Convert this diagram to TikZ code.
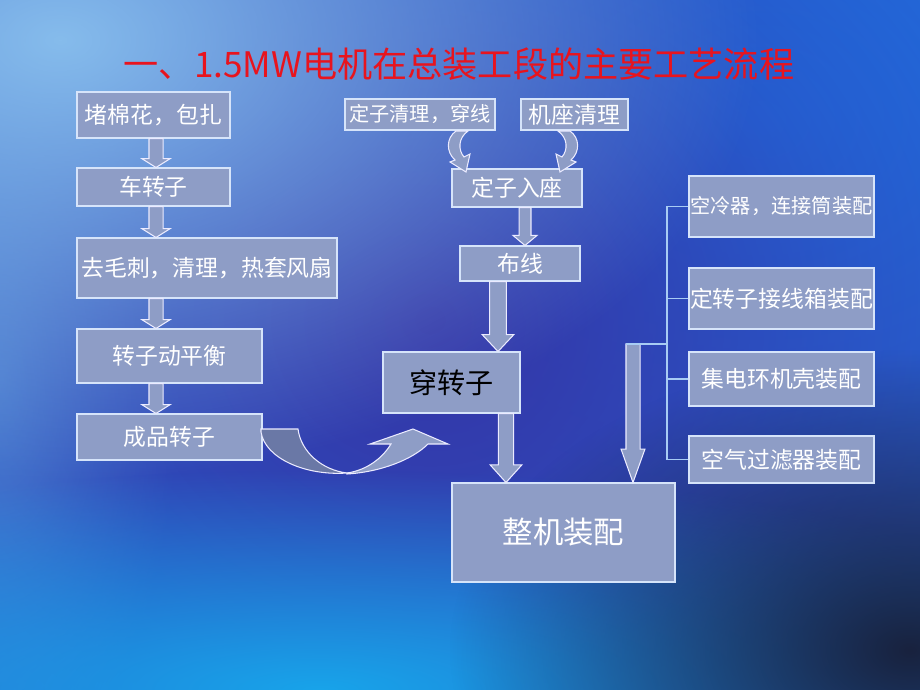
\documentclass[tikz,border=0pt]{standalone}
\usepackage{fontspec}
\setmainfont{Noto Sans CJK SC}
\newfontfamily\cjk{Noto Sans CJK SC}
\usetikzlibrary{calc, fadings}

\definecolor{boxfill}{HTML}{8E9DC6}
\definecolor{boxline}{HTML}{D6E4FA}
\definecolor{darkfold}{HTML}{6A78A6}
\definecolor{linkblue}{HTML}{A8CCF4}
\definecolor{titlered}{HTML}{E8141E}
\definecolor{bgbase}{HTML}{2A5AC8}
\definecolor{bglight}{HTML}{86BCEC}
\definecolor{bgindigo}{HTML}{3534A6}
\definecolor{bgcyan}{HTML}{18A4EA}
\definecolor{bgdark}{HTML}{18223E}
\definecolor{bgbright}{HTML}{1F6FE2}
\definecolor{bgleft}{HTML}{4E90DC}

\tikzfading[name=soft blob, inner color=transparent!0, outer color=transparent!100]

\tikzset{
	process box style/.style={
		draw=boxline,
		line width=0.6pt,
		fill=boxfill,
		text=white,
		inner sep=0pt,
		font=\cjk\fontsize{13}{15}\selectfont
	},
	block arrow style/.style={
		fill=boxfill,
		draw=white!92!blue,
		line width=0.6pt,
		line join=miter
	},
	link line style/.style={
		draw=linkblue,
		line width=1pt
	}
}

% top point, tip point, shaft half width, head half width, head length
\newcommand{\blockarrow}[5]{%
	\draw[block arrow style] let \p1=(#1), \p2=(#2) in
	(\x1-#3,\y1) -- (\x1-#3,\y2+#5) -- (\x1-#4,\y2+#5) -- (\x1,\y2)
	-- (\x1+#4,\y2+#5) -- (\x1+#3,\y2+#5) -- (\x1+#3,\y1) -- cycle;
}

\begin{document}
\begin{tikzpicture}[x=0.02cm, y=-0.02cm]
	
	% --- 1. Background ---
	\useasboundingbox (0,0) rectangle (920,690);
	\begin{scope}
		\clip (0,0) rectangle (920,690);
		\fill[bgbase] (0,0) rectangle (920,690);
		\fill[bgbright, path fading=soft blob] (760,120) ellipse (10.4cm and 8cm);
		\fill[bgleft, path fading=soft blob] (0,380) ellipse (3.6cm and 8cm);
		\fill[bgindigo, path fading=soft blob] (430,320) ellipse (12cm and 11cm);
		\fill[bglight, path fading=soft blob] (60,40) ellipse (14cm and 8.8cm);
		\fill[bgcyan, path fading=soft blob] (320,690) ellipse (17cm and 4.4cm);
		\fill[bgdark, path fading=soft blob] (910,650) ellipse (9.2cm and 6cm);
	\end{scope}
	
	% --- 2. Title ---
	\node[text=titlered, font=\cjk\fontsize{20}{22}\selectfont] (title) at (459,64) {一、1.5MW电机在总装工段的主要工艺流程};
	
	% --- 3. Rotor line (left) ---
	\node[process box style, minimum width=3.06cm, minimum height=0.92cm] (mianhua) at (153.5,115) {堵棉花，包扎};
	\node[process box style, minimum width=3.06cm, minimum height=0.76cm] (chezhuanzi) at (153.5,187) {车转子};
	\node[process box style, minimum width=5.2cm, minimum height=1.2cm] (qumaoci) at (207,268) {去毛刺，清理，热套风扇};
	\node[process box style, minimum width=3.7cm, minimum height=1.08cm] (pingheng) at (169.5,356) {转子动平衡};
	\node[process box style, minimum width=3.7cm, minimum height=0.92cm] (chengpin) at (169.5,437) {成品转子};
	
	\coordinate (rotoraxis) at (156,0);
	\blockarrow{rotoraxis |- mianhua.south}{rotoraxis |- chezhuanzi.north}{4pt}{8pt}{5pt}
	\blockarrow{rotoraxis |- chezhuanzi.south}{rotoraxis |- qumaoci.north}{4pt}{8pt}{5pt}
	\blockarrow{rotoraxis |- qumaoci.south}{rotoraxis |- pingheng.north}{4pt}{8pt}{5pt}
	\blockarrow{rotoraxis |- pingheng.south}{rotoraxis |- chengpin.north}{4pt}{8pt}{5pt}
	
	% --- 4. Stator line (middle) ---
	\node[process box style, minimum width=3.0cm, minimum height=0.62cm, font=\cjk\fontsize{11.5}{13}\selectfont] (dzqingli) at (420,114.5) {定子清理，穿线};
	\node[process box style, minimum width=2.14cm, minimum height=0.62cm] (jizuo) at (574.5,114.5) {机座清理};
	\node[process box style, minimum width=2.6cm, minimum height=0.76cm] (ruzuo) at (517,188) {定子入座};
	\node[process box style, minimum width=2.4cm, minimum height=0.7cm] (buxian) at (520,263.5) {布线};
	\node[process box style, minimum width=2.74cm, minimum height=1.22cm, text=black, font=\cjk\fontsize{16}{18}\selectfont] (chuan) at (451.5,382.5) {穿转子};
	\node[process box style, minimum width=4.46cm, minimum height=1.98cm, font=\cjk\fontsize{17.3}{19}\selectfont] (zhengji) at (563.5,532.5) {整机装配};
	
	% small curved arrows into the stator seat
	\draw[block arrow style] (456,131) -- (468,131) .. controls (458,138) and (458,150) .. (464,157)
	-- (470,154) -- (466,172) -- (450,162) -- (455,160) .. controls (446,152) and (446,138) .. cycle;
	\draw[block arrow style] (570,131) -- (558,131) .. controls (568,138) and (568,150) .. (562,157)
	-- (556,154) -- (560,172) -- (576,162) -- (571,160) .. controls (580,152) and (580,138) .. cycle;
	
	\coordinate (wireaxis) at (525,0);
	\blockarrow{wireaxis |- ruzuo.south}{wireaxis |- buxian.north}{3.4pt}{6.8pt}{5.7pt}
	\coordinate (threadaxis) at (498,0);
	\blockarrow{threadaxis |- buxian.south}{threadaxis |- chuan.north}{4.8pt}{9pt}{9.6pt}
	\coordinate (finalaxis) at (506,0);
	\blockarrow{finalaxis |- chuan.south}{finalaxis |- zhengji.north}{4.3pt}{9pt}{10pt}
	
	% big curved arrow from finished rotor to threading
	\draw[block arrow style, fill=darkfold] (261,429) -- (298,429)
	.. controls (301,452) and (322,470) .. (347,473)
	.. controls (305,476) and (265,458) .. (261,432) -- cycle;
	\draw[block arrow style] (347,474) .. controls (380,472) and (412,460) .. (428,444)
	-- (448,444) -- (413,429) -- (370,444) -- (391,444)
	.. controls (380,462) and (362,471) .. (347,473) -- cycle;
	
	% --- 5. Sub-assemblies (right) ---
	\node[process box style, minimum width=3.7cm, minimum height=1.22cm, font=\cjk\fontsize{11.5}{13}\selectfont] (kongleng) at (781.5,206.5) {空冷器，连接筒装配};
	\node[process box style, minimum width=3.7cm, minimum height=1.22cm] (jiexian) at (781.5,298.5) {定转子接线箱装配};
	\node[process box style, minimum width=3.7cm, minimum height=1.08cm] (jidian) at (781.5,379) {集电环机壳装配};
	\node[process box style, minimum width=3.7cm, minimum height=0.94cm] (guolv) at (781.5,459.5) {空气过滤器装配};
	
	\coordinate (bracket) at (667,344);
	\coordinate (merge) at (633,344);
	\draw[link line style] (kongleng.west) -- (kongleng.west -| bracket) -- (guolv.west -| bracket) -- (guolv.west);
	\draw[link line style] (jiexian.west) -- (jiexian.west -| bracket);
	\draw[link line style] (jidian.west) -- (jidian.west -| bracket);
	\blockarrow{merge}{merge |- zhengji.north}{4pt}{6.8pt}{19pt}
	\draw[link line style] ([xshift=-4pt]merge) -- (bracket);
	
\end{tikzpicture}
\end{document}
